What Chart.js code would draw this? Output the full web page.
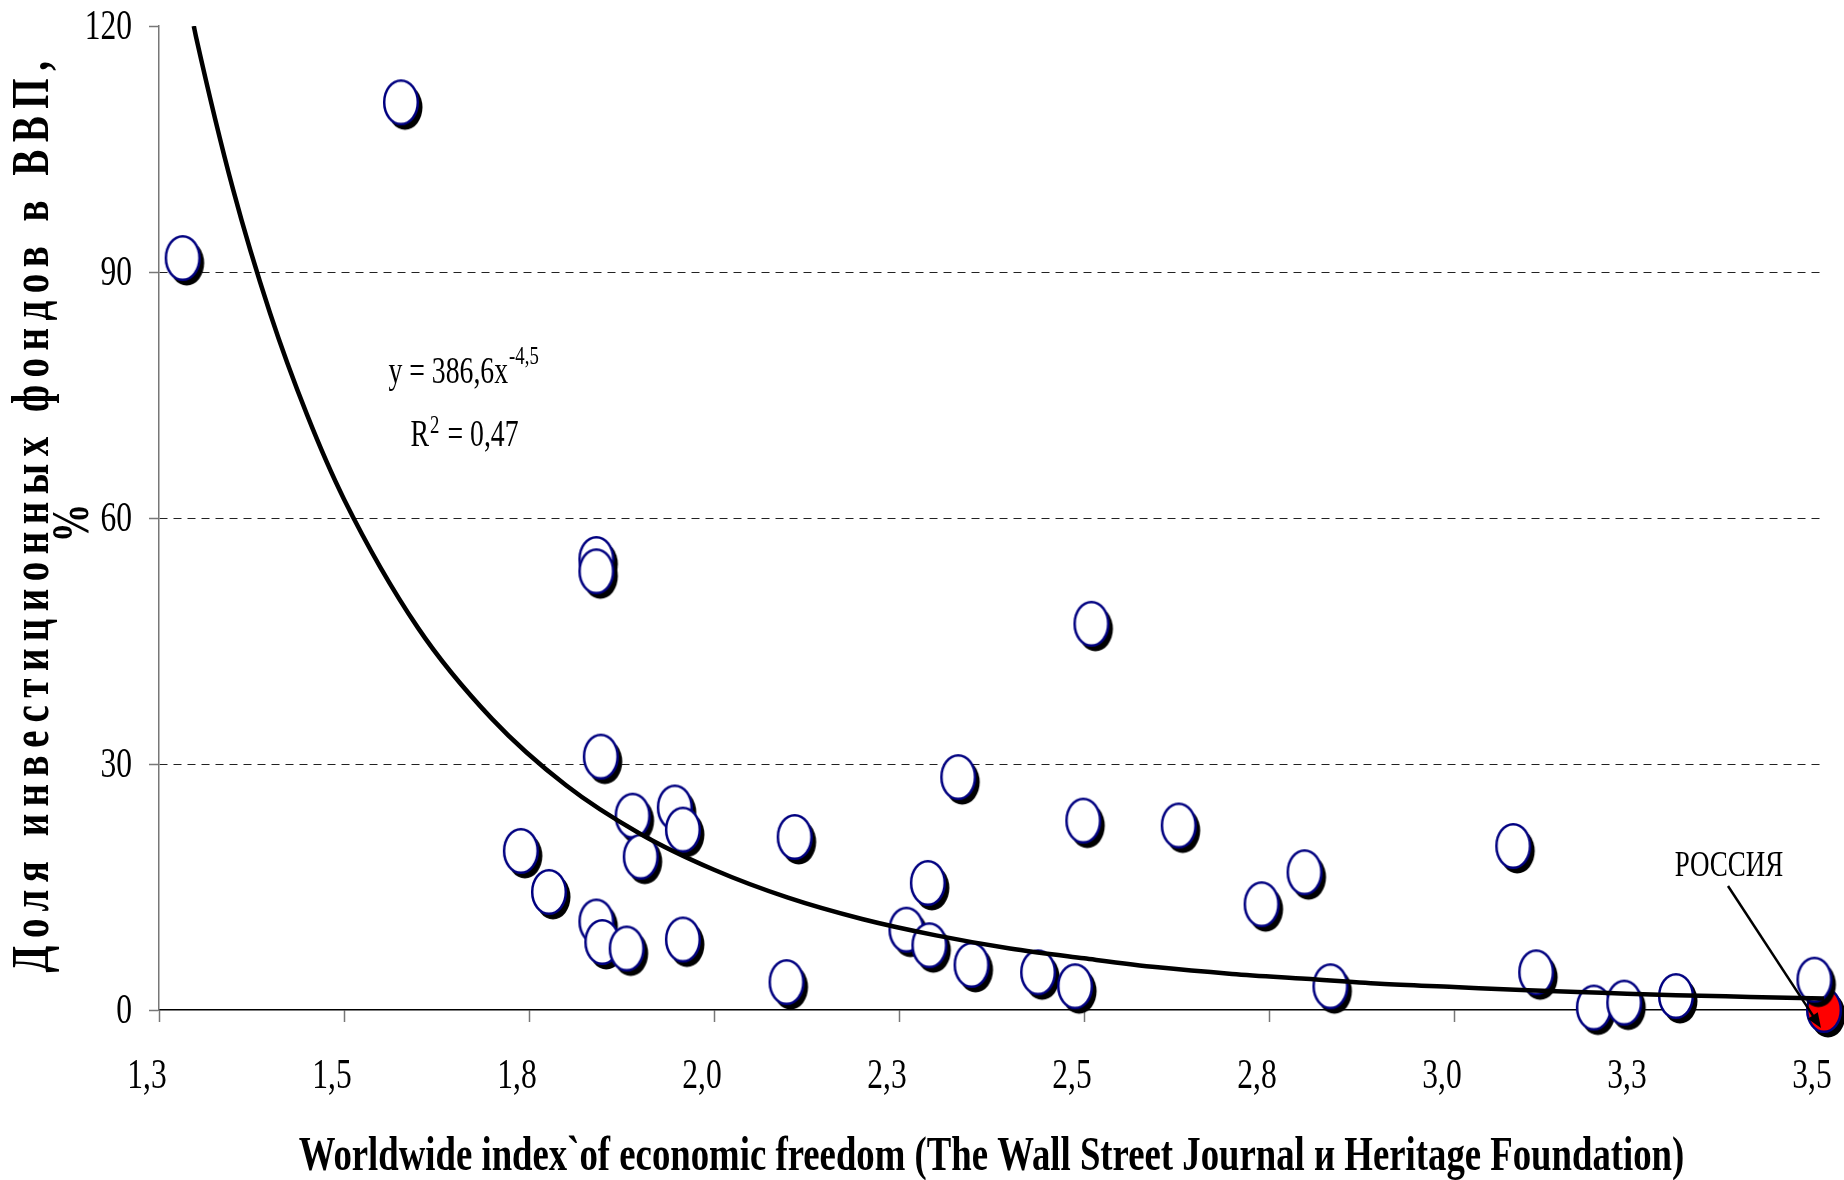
<!DOCTYPE html>
<html lang="ru">
<head>
<meta charset="utf-8">
<title>Доля инвестиционных фондов в ВВП</title>
<script src="https://cdn.jsdelivr.net/npm/chart.js@4.4.1/dist/chart.umd.min.js"></script>
<style>
  html, body { margin: 0; padding: 0; background: #fff; }
  #chart { display: block; }
</style>
</head>
<body>
<canvas id="chart" width="1844" height="1180"></canvas>
<script>
// Index of economic freedom (x) vs share of investment funds in GDP, % (y)
const countryX = [1.282, 1.577, 1.739, 1.777, 1.841, 1.841, 1.841, 1.847, 1.849, 1.882, 1.890, 1.901,
                  1.947, 1.958, 1.958, 2.098, 2.109, 2.260, 2.289, 2.291, 2.330, 2.348, 2.438, 2.488,
                  2.499, 2.510, 2.628, 2.740, 2.798, 2.833, 3.080, 3.111, 3.189, 3.230, 3.300, 3.487];
const countryY = [91.7, 110.7, 19.4, 14.4, 55.0, 53.5, 10.8, 30.9, 8.3, 7.5, 23.7, 18.7,
                  24.7, 22.0, 8.6, 3.4, 21.1, 9.8, 15.5, 7.9, 28.4, 5.5, 4.6, 2.9,
                  23.1, 47.1, 22.5, 12.9, 16.8, 2.9, 20.0, 4.6, 0.3, 0.9, 1.7, 3.7];
const russiaX = [3.5];
const russiaY = [0];

// Power trendline y = 386,6x^-4,5 as it is drawn in the picture
const trendX = [1.297, 1.3, 1.35, 1.4, 1.45, 1.5, 1.6, 1.7, 1.8, 1.9, 2.0, 2.1, 2.2,
                2.3, 2.4, 2.5, 2.6, 2.7, 2.8, 2.9, 3.0, 3.1, 3.2, 3.3, 3.4, 3.5];
const trendY = [120, 118.7, 100.1, 85.0, 72.6, 62.3, 46.6, 35.5, 27.4, 21.5, 17.1, 13.7, 11.1,
                9.1, 7.5, 6.3, 5.2, 4.4, 3.8, 3.2, 2.8, 2.4, 2.1, 1.8, 1.6, 1.4];

const xTickLabels = ['1,3', '1,5', '1,8', '2,0', '2,3', '2,5', '2,8', '3,0', '3,3', '3,5'];
const yTickLabels = ['0', '30', '60', '90', '120'];

const yTitle = 'Доля инвестиционных фондов в ВВП,';
const yTitleUnit = '%';
const xTitle = 'Worldwide index`of economic freedom (The Wall Street Journal и Heritage Foundation)';
const russiaLabel = 'РОССИЯ';
const eqMain = 'y = 386,6x';
const eqPower = '-4,5';
const r2Main = 'R';
const r2Power = '2';
const r2Value = ' = 0,47';

const toPoints = (xs, ys) => xs.map((x, i) => ({ x: x, y: ys[i] }));

// Text in the picture is narrow Times, so every label is squeezed horizontally
const SQUEEZE = 0.75;
const TICK_FONT = '42px "Liberation Serif"';
const XTITLE_FONT = 'bold 49px "Liberation Serif"';
const YTITLE_FONT = 'bold 52px "Liberation Serif"';
const EQ_FONT = '37px "Liberation Serif"';
const SUP_FONT = '25px "Liberation Serif"';
const NOTE_FONT = '36px "Liberation Serif"';

const drawText = (ctx, text, x, y, font, align, rotate, spacing) => {
    ctx.save();
    ctx.translate(x, y);
    if (rotate) ctx.rotate(rotate);
    ctx.scale(SQUEEZE, 1);
    ctx.font = font;
    ctx.fillStyle = '#000';
    ctx.textAlign = align || 'left';
    ctx.textBaseline = 'alphabetic';
    if (spacing) ctx.letterSpacing = spacing;
    ctx.fillText(text, 0, 0);
    ctx.restore();
};

const textWidth = (ctx, text, font) => {
    ctx.save();
    ctx.font = font;
    const w = ctx.measureText(text).width * SQUEEZE;
    ctx.restore();
    return w;
};

// Ellipse marker with a black drop shadow
const makeMarker = (fill) => {
    const c = document.createElement('canvas');
    c.width = 52;
    c.height = 64;
    const g = c.getContext('2d');
    g.fillStyle = '#000';
    g.beginPath();
    g.ellipse(30, 37, 17.5, 22.5, 0, 0, Math.PI * 2);
    g.fill();
    g.fillStyle = fill;
    g.strokeStyle = '#000080';
    g.lineWidth = 2.5;
    g.beginPath();
    g.ellipse(26, 32, 16.8, 21.8, 0, 0, Math.PI * 2);
    g.fill();
    g.stroke();
    return c;
};

const labelsPlugin = {
    id: 'labels',
    afterDraw(chart) {
        const { ctx, chartArea: area, scales: { x: xs, y: ys } } = chart;

        ys.ticks.forEach((t, i) => {
            drawText(ctx, yTickLabels[i], area.left - 27, ys.getPixelForValue(t.value) + 13, TICK_FONT, 'right');
        });
        xs.ticks.forEach((t, i) => {
            drawText(ctx, xTickLabels[i], xs.getPixelForValue(t.value) - 12, area.bottom + 78, TICK_FONT, 'center');
        });

        drawText(ctx, xTitle, (area.left + area.right) / 2, 1170, XTITLE_FONT, 'center');
        drawText(ctx, yTitle, 48, 513, YTITLE_FONT, 'center', -Math.PI / 2, '10px');
        drawText(ctx, yTitleUnit, 88, 523, YTITLE_FONT, 'center', -Math.PI / 2);

        // Trendline equation
        let ex = xs.getPixelForValue(1.56);
        let ey = ys.getPixelForValue(76.5);
        drawText(ctx, eqMain, ex, ey, EQ_FONT);
        drawText(ctx, eqPower, ex + textWidth(ctx, eqMain, EQ_FONT) + 1, ey - 19, SUP_FONT);
        ex = xs.getPixelForValue(1.59);
        ey = ys.getPixelForValue(68.8);
        drawText(ctx, r2Main, ex, ey, EQ_FONT);
        const rw = textWidth(ctx, r2Main, EQ_FONT);
        drawText(ctx, r2Power, ex + rw + 1, ey - 13, SUP_FONT);
        drawText(ctx, r2Value, ex + rw + textWidth(ctx, r2Power, SUP_FONT) + 2, ey, EQ_FONT);

        // Russia callout
        const rp = chart.getDatasetMeta(2).data[0];
        drawText(ctx, russiaLabel, rp.x - 95, rp.y - 134, NOTE_FONT, 'center');
        const sx = rp.x - 96, sy = rp.y - 124, tx = rp.x - 3, ty = rp.y + 18;
        const ang = Math.atan2(ty - sy, tx - sx);
        ctx.save();
        ctx.strokeStyle = '#000';
        ctx.fillStyle = '#000';
        ctx.lineWidth = 2.5;
        ctx.beginPath();
        ctx.moveTo(sx, sy);
        ctx.lineTo(tx - 10 * Math.cos(ang), ty - 10 * Math.sin(ang));
        ctx.stroke();
        ctx.beginPath();
        ctx.moveTo(tx, ty);
        ctx.lineTo(tx - 15 * Math.cos(ang) + 6 * Math.sin(ang), ty - 15 * Math.sin(ang) - 6 * Math.cos(ang));
        ctx.lineTo(tx - 15 * Math.cos(ang) - 6 * Math.sin(ang), ty - 15 * Math.sin(ang) + 6 * Math.cos(ang));
        ctx.closePath();
        ctx.fill();
        ctx.restore();
    }
};

const gridValues = [30, 60, 90];

new Chart(document.getElementById('chart'), {
    type: 'scatter',
    data: {
        datasets: [
            {
                label: 'Тренд',
                data: toPoints(trendX, trendY),
                showLine: true,
                borderColor: '#000',
                borderWidth: 4.5,
                pointRadius: 0,
                cubicInterpolationMode: 'monotone',
                order: 0
            },
            {
                label: 'Страны',
                data: toPoints(countryX, countryY),
                pointStyle: makeMarker('#ffffff'),
                pointRadius: 18,
                clip: false,
                order: 1
            },
            {
                label: 'Россия',
                data: toPoints(russiaX, russiaY),
                pointStyle: makeMarker('#ff0000'),
                pointRadius: 18,
                clip: false,
                order: 2
            }
        ]
    },
    options: {
        responsive: false,
        animation: false,
        layout: { padding: { left: 149, right: 20, top: 26, bottom: 158 } },
        plugins: {
            legend: { display: false },
            tooltip: { enabled: false }
        },
        scales: {
            x: {
                type: 'linear',
                min: 1.25,
                max: 3.5,
                ticks: { stepSize: 0.25, display: false },
                grid: { drawOnChartArea: false, drawTicks: true, tickLength: 12, tickColor: '#777', tickWidth: 1.5 },
                border: { color: '#000', width: 1.5 }
            },
            y: {
                min: 0,
                max: 120,
                ticks: { stepSize: 30, display: false },
                grid: {
                    color: c => gridValues.includes(c.tick.value) ? '#222' : 'rgba(0,0,0,0)',
                    lineWidth: 1,
                    drawTicks: true,
                    tickLength: 10,
                    tickColor: '#777',
                    tickWidth: 1.5
                },
                border: { color: '#777', width: 1.5, dash: [8, 6] }
            }
        }
    },
    plugins: [labelsPlugin]
});
</script>
</body>
</html>
